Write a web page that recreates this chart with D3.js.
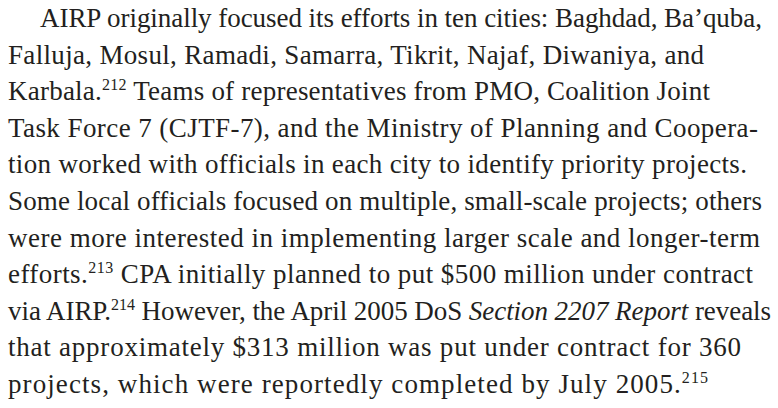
<!DOCTYPE html>
<html>
<head>
<meta charset="utf-8">
<script src="https://cdn.jsdelivr.net/npm/d3@7"></script>
<style>
  html, body { margin: 0; padding: 0; background: #ffffff; }
  svg { display: block; }
</style>
</head>
<body>
<script>
// Paragraph content: each line is a list of [text, style] runs.
// style: "n" normal, "s" superscript, "i" italic
const lines = [
  [["AIRP originally focused its efforts in ten cities: Baghdad, Ba\u2019quba,", "n"]],
  [["Falluja, Mosul, Ramadi, Samarra, Tikrit, Najaf, Diwaniya, and", "n"]],
  [["Karbala.", "n"], ["212", "s"], [" Teams of representatives from PMO, Coalition Joint", "n"]],
  [["Task Force 7 (CJTF-7), and the Ministry of Planning and Coopera-", "n"]],
  [["tion worked with officials in each city to identify priority projects.", "n"]],
  [["Some local officials focused on multiple, small-scale projects; others", "n"]],
  [["were more interested in implementing larger scale and longer-term", "n"]],
  [["efforts.", "n"], ["213", "s"], [" CPA initially planned to put $500 million under contract", "n"]],
  [["via AIRP.", "n"], ["214", "s"], [" However, the April 2005 DoS ", "n"], ["Section 2207 Report", "i"], [" reveals", "n"]],
  [["that approximately $313 million was put under contract for 360", "n"]],
  [["projects, which were reportedly completed by July 2005.", "n"], ["215", "s"]]
];

// Layout (not data): first-line indent and measured right edge of each line
const layout = {
  left: 8, indent: 32,
  firstBaseline: 27, lastBaseline: 393,
  rightEdge: [762, 704, 710, 758, 747, 762, 760, 753, 771, 741, 708]
};

const W = 778, H = 408;
const svg = d3.select("body").append("svg").attr("width", W).attr("height", H);

const y = d3.scaleLinear().domain([0, lines.length - 1])
  .range([layout.firstBaseline, layout.lastBaseline]);

const txt = svg.append("g")
  .style("font-family", "'Liberation Serif', 'Times New Roman', serif")
  .style("font-size", "27px")
  .attr("fill", "#231f20");

lines.forEach((runs, i) => {
  const x = layout.left + (i === 0 ? layout.indent : 0);
  const t = txt.append("text").attr("x", x).attr("y", y(i));
  let prevSup = false, nChars = 0;
  runs.forEach(([s, st]) => {
    const ts = t.append("tspan").text(s);
    nChars += s.length;
    if (st === "s") {
      ts.style("font-size", "16px").attr("dy", -10);
      prevSup = true;
    } else {
      if (prevSup) { ts.attr("dy", 10); prevSup = false; }
      if (st === "i") ts.style("font-style", "italic");
    }
  });
  const natural = t.node().getComputedTextLength();
  const target = layout.rightEdge[i] - x;
  const ls = (target - natural) / Math.max(1, nChars - 1);
  t.style("letter-spacing", ls.toFixed(3) + "px");
});
</script>
</body>
</html>
